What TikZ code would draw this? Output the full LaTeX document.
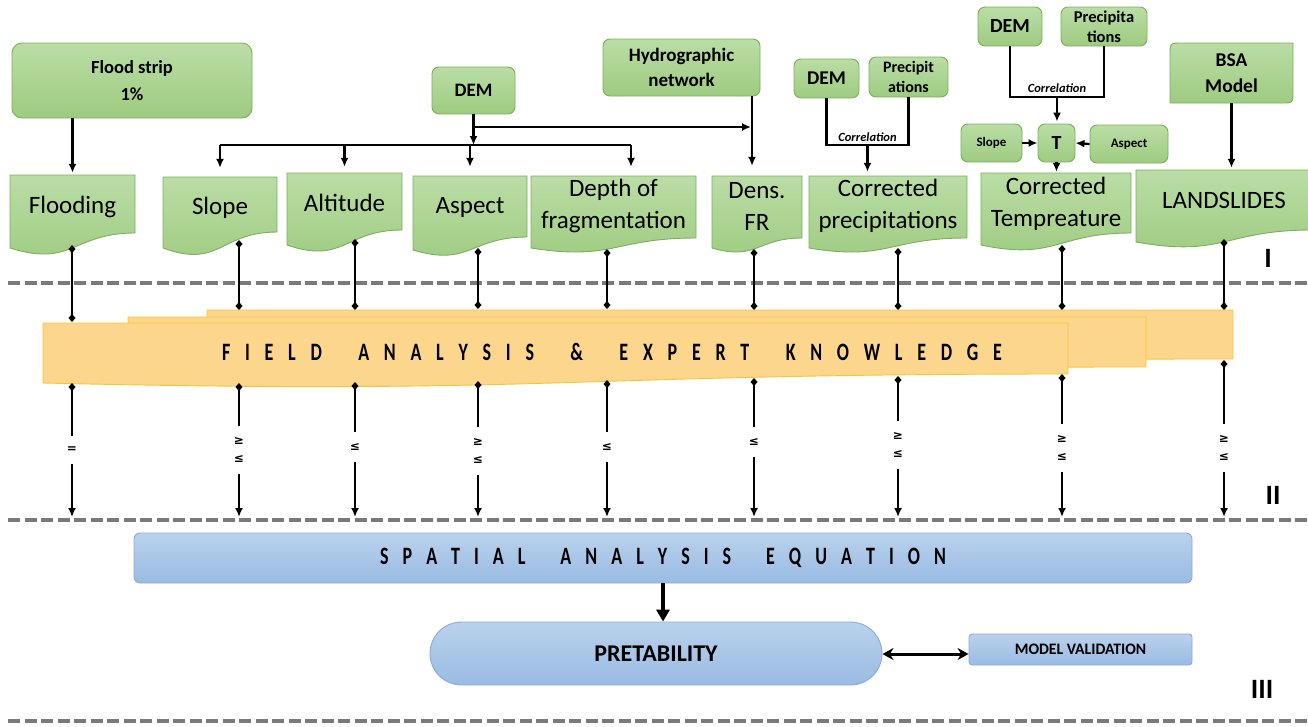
\documentclass[tikz,border=0pt]{standalone}
\usepackage{fontspec}
\setmainfont{Carlito}
\newfontfamily\symfont{DejaVu Sans}
\usepackage{graphicx}
\usetikzlibrary{arrows.meta,calc}
\definecolor{gtop}{RGB}{186,221,166}
\definecolor{gbot}{RGB}{158,203,128}
\definecolor{gline}{RGB}{122,176,88}
\definecolor{ofill}{RGB}{252,214,140}
\definecolor{oline}{RGB}{250,196,50}
\definecolor{btop}{RGB}{186,209,236}
\definecolor{bbot}{RGB}{153,187,227}
\definecolor{bline}{RGB}{140,172,215}
\definecolor{dgray}{RGB}{122,122,122}
\newlength\spgap \newlength\spword
\setlength\spgap{20.5pt}\setlength\spword{30pt}
\makeatletter
\def\sp@end{\relax}
\newcommand\spreadout[1]{\sp@loop#1\sp@end}
\def\sp@loop#1{\ifx#1\sp@end\unskip\else\ifx#1/\hspace{\spword}\else#1\hspace{\spgap}\fi\expandafter\sp@loop\fi}
\makeatother
% document-shaped node: name, x0, x1, top, yright, yleft, text-y, text
\newcommand\docnode[8]{%
  \path[docshape] (#2,#4) -- (#3,#4) -- (#3,#5) .. controls ({(#2+#3)/2},#5) and ({(#2+#3)/2},{#6+1.31*(#6-#5)}) .. (#2,#6) -- cycle;
  \node[doctext, minimum width={#3-#2}, minimum height={2*(#7-#4)}] (#1) at ({(#2+#3)/2},#7) {#8};}
% band layer: x0, x1, top, yright, yleft
\newcommand\bandlayer[5]{%
  \path[band] (#1,#3) -- (#2,#3) -- (#2,#4) .. controls ({(#1+#2)/2},#4) and ({(#1+#2)/2},{#5+1.31*(#5-#4)}) .. (#1,#5) -- cycle;}
% column: id, x, doc bottom, band top, band bottom, label y, label
\newcommand\bandcol[7]{%
  \coordinate (#1a) at (#2,#3);
  \coordinate (#1b) at (#2,#4);
  \coordinate (#1c) at (#2,#5);
  \coordinate (#1d) at (#2,517);
  \node[rel] (#1l) at (#2,#6) {#7};
  \draw[dd] (#1a) -- (#1b);
  \draw[dstart] (#1c) -- (#1l);
  \draw[arr] (#1l) -- (#1d);}
\begin{document}
\begin{tikzpicture}[x=1pt,y=-1pt,
  gbox/.style={draw=gline,line width=0.9pt,top color=gtop,bottom color=gbot,rounded corners=7pt,align=center,inner sep=0pt,font=\bfseries},
  docshape/.style={draw=gline,line width=0.9pt,top color=gtop,bottom color=gbot},
  doctext/.style={font=\fontsize{25}{32}\selectfont,align=center,inner sep=0pt},
  band/.style={draw=oline,line width=0.9pt,fill=ofill},
  bbox/.style={draw=bline,line width=0.9pt,top color=btop,bottom color=bbot,align=center,inner sep=0pt},
  ln/.style={line width=2.6pt},
  arr/.style={line width=2.6pt,-{Latex[length=9pt,width=8pt]}},
  dd/.style={line width=2.6pt,{Diamond[length=8pt,width=7pt]}-{Diamond[length=8pt,width=7pt]}},
  dstart/.style={line width=2.6pt,{Diamond[length=8pt,width=7pt]}-},
  rel/.style={font=\symfont\bfseries\fontsize{12}{18}\selectfont,inner xsep=1pt,inner ysep=11pt,align=center},
  sep/.style={line width=4pt,dgray,dash pattern=on 12pt off 4.5pt},
  corr/.style={font=\bfseries\itshape\fontsize{12.5}{14}\selectfont,inner sep=1pt},
  roman/.style={font=\bfseries\fontsize{28}{30}\selectfont,inner sep=0pt}]
\useasboundingbox (0,0) rectangle (1308,726);

% separators
\draw[sep] (8,283) -- (1308,283);
\draw[sep] (8,520) -- (1308,520);
\draw[sep] (8,721) -- (1308,721);

% orange band (multi-document)
\bandlayer{207}{1233}{310}{359}{363}
\bandlayer{128}{1146}{317}{367}{372}
\bandlayer{43}{1068}{323}{374}{383}
\node[font=\bfseries\fontsize{25}{30}\selectfont,inner sep=0pt] (field) at (612,352)
  {\scalebox{0.72}[1]{\spreadout{FIELD/ANALYSIS/\&/EXPERT/KNOWLEDGE}}};

% top boxes
\node[gbox,rounded corners=10pt,minimum width=240pt,minimum height=75pt,font=\bfseries\fontsize{18.5}{27}\selectfont] (flood) at (132,80.5) {Flood strip\\1\%};
\node[gbox,minimum width=83pt,minimum height=47pt,font=\bfseries\fontsize{19}{20}\selectfont] (dem1) at (473.5,90.5) {DEM};
\node[gbox,minimum width=157pt,minimum height=57pt,font=\bfseries\fontsize{19}{25}\selectfont] (hydro) at (681.5,67.5) {Hydrographic\\network};
\node[gbox,minimum width=65pt,minimum height=39pt,font=\bfseries\fontsize{19.5}{20}\selectfont] (demA) at (826.5,78.5) {DEM};
\node[gbox,minimum width=79pt,minimum height=40pt,font=\bfseries\fontsize{16}{20}\selectfont] (precA) at (908.5,77) {Precipit\\ations};
\node[gbox,minimum width=64pt,minimum height=39pt,font=\bfseries\fontsize{20}{20}\selectfont] (demB) at (1010,26.5) {DEM};
\node[gbox,minimum width=86pt,minimum height=39pt,font=\bfseries\fontsize{16.5}{20}\selectfont] (precB) at (1104,26.5) {Precipita\\tions};
\node[gbox,minimum width=61pt,minimum height=38pt,font=\bfseries\fontsize{13}{16}\selectfont] (slopeS) at (991.5,143) {Slope};
\node[gbox,minimum width=37pt,minimum height=38pt,font=\bfseries\fontsize{20}{22}\selectfont] (T) at (1056.5,143) {T};
\node[gbox,minimum width=78pt,minimum height=38pt,font=\bfseries\fontsize{13}{16}\selectfont] (aspectS) at (1129,144) {Aspect};
\path[docshape] (1170,103) -- (1170,55) .. controls (1170,43) .. (1182,43) -- (1293,43) -- (1293,91) .. controls (1293,103) .. (1281,103) -- cycle;
\node[align=center,inner sep=0pt,minimum width=123pt,minimum height=60pt,font=\bfseries\fontsize{19.5}{26}\selectfont] (bsa) at (1231.5,73) {BSA\\Model};

% document nodes
\docnode{flooding}{10}{135}{175}{233}{248}{207}{Flooding}
\docnode{slope}{163}{277}{177}{232}{248}{208}{Slope}
\docnode{altitude}{287}{402}{173}{230}{245}{203}{Altitude}
\docnode{aspect}{413}{527}{176}{237}{250}{207}{Aspect}
\docnode{depth}{531}{696}{176}{238}{248}{206}{Depth of\\fragmentation}
\docnode{dens}{712}{802}{176}{238}{248}{206}{Dens.\\FR}
\docnode{cprec}{809}{967}{176}{238}{248}{206}{Corrected\\precipitations}
\docnode{ctemp}{981}{1131}{173}{233}{245}{204}{Corrected\\Tempreature}
\docnode{lands}{1136}{1312}{170}{230}{242}{200}{LANDSLIDES}

% top connectors
\draw[arr,shorten >=2pt] (flooding.north |- flood.south) -- (flooding.north);
\coordinate (busL) at (220,145);
\coordinate (busR) at (631,145);
\draw[ln] (busL) -- (busR);
\draw[arr,shorten >=9pt] (busL) -- (busL |- slope.north);
\draw[arr,shorten >=6pt] (busL -| altitude.north) -- (altitude.north);
\draw[arr,shorten >=9pt] (busL -| aspect.north) -- (aspect.north);
\draw[arr,shorten >=9pt] (busR) -- (busR |- depth.north);
\draw[arr] (dem1.south) -- (dem1.south |- busL);
\coordinate (hj) at (473.5,127);
\coordinate (hydB) at (752,96);
\draw[arr,shorten >=10pt] (hydB) -- (hydB |- dens.north);
\draw[arr,shorten >=1pt] (hj) -- (hj -| hydB);

\coordinate (cA) at (0,145);
\draw[ln] (demA.south) -- (demA.south |- cA) -- (precA.south |- cA) -- (precA.south);
\coordinate (cAm) at ($(demA.south |- cA)!0.5!(precA.south |- cA)$);
\node[corr,above=2pt] (corrA) at (cAm) {Correlation};
\draw[arr,shorten >=4pt] (cAm) -- (cAm |- cprec.north);

\coordinate (cB) at (0,97);
\draw[ln] (demB.south) -- (demB.south |- cB) -- (precB.south |- cB) -- (precB.south);
\coordinate (cBm) at ($(demB.south |- cB)!0.5!(precB.south |- cB)$);
\node[corr,above=3pt] (corrB) at (cBm) {Correlation};
\draw[arr,shorten >=2pt] (cBm) -- (cBm |- T.north);
\draw[arr,line width=2.2pt] (slopeS.east) -- (T.west);
\draw[arr,line width=2.2pt] (aspectS.west) -- (T.west -| T.east);
\draw[arr,line width=2.2pt,shorten >=1pt] (T.south) -- (T.south |- ctemp.north);
\draw[arr,shorten >=2pt] (bsa.south) -- (bsa.south |- lands.north);

% columns through the band
\bandcol{k1}{72}{245}{322}{383}{450}{=}
\bandcol{k2}{239}{240}{310}{383}{450}{≥\\≤}
\bandcol{k3}{355}{239}{310}{382}{447}{≤}
\bandcol{k4}{478}{248}{309}{381}{451}{≥\\≤}
\bandcol{k5}{607}{249}{309}{380}{447}{≤}
\bandcol{k6}{754}{249}{310}{378}{442}{≤}
\bandcol{k7}{898}{248}{310}{376}{445}{≥\\≤}
\bandcol{k8}{1062}{245}{310}{374}{448}{≥\\≤}
\bandcol{k9}{1224}{239}{310}{360}{448}{≥\\≤}

% section III
\node[bbox,rounded corners=6pt,minimum width=1058pt,minimum height=50pt,font=\bfseries\fontsize{25}{30}\selectfont] (spatial) at (663,558)
  {\setlength\spgap{19.5pt}\setlength\spword{29pt}\scalebox{0.72}[1]{\spreadout{SPATIAL/ANALYSIS/EQUATION}}};
\node[bbox,rounded corners=31.5pt,minimum width=452pt,minimum height=63pt,font=\bfseries\fontsize{24}{28}\selectfont] (pret) at (656,653.5)
  {PRETABILITY};
\node[bbox,rounded corners=3pt,minimum width=223pt,minimum height=31pt,font=\bfseries\fontsize{16}{18}\selectfont] (model) at (1080.5,649.5)
  {\scalebox{0.98}[1]{MODEL VALIDATION}};
\draw[line width=4pt,-{Triangle[length=12pt,width=13pt]}] (spatial.south) -- (spatial.south |- pret.north);
\draw[line width=3pt,{Stealth[length=11pt,width=12pt]}-{Stealth[length=11pt,width=12pt]}] (pret.east |- 0,654) -- (model.west |- 0,654);

% roman numerals
\node[roman] (r1) at (1268,258) {I};
\node[roman] (r2) at (1273,495) {II};
\node[roman] (r3) at (1262,689) {III};
\end{tikzpicture}
\end{document}
